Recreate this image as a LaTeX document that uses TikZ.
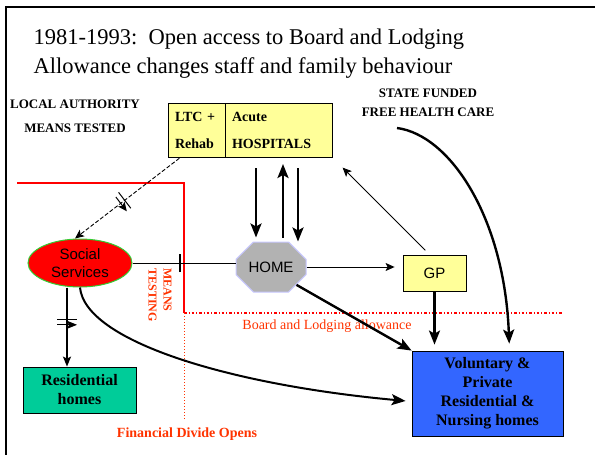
\documentclass[tikz,border=0pt]{standalone}
\usepackage{fontspec}
\setmainfont{Liberation Serif}
\setsansfont{Liberation Sans}
\usetikzlibrary{positioning, arrows.meta, shapes.geometric, shapes.misc, decorations.markings}
\definecolor{boxyellow}{RGB}{255,255,153}
\definecolor{homegray}{RGB}{178,178,178}
\definecolor{homeedge}{RGB}{200,200,255}
\definecolor{ssgreen}{RGB}{51,204,51}
\definecolor{resteal}{RGB}{0,204,153}
\definecolor{volblue}{RGB}{51,102,255}
\definecolor{labelred}{RGB}{255,51,0}
\tikzset{
x=1pt, y=-1pt, % one unit per pixel, y pointing down
bigarrow/.style={line width=2.4pt, -{Stealth[length=14pt, width=11pt, inset=3pt]}}, % thick arrows
midarrow/.style={line width=1.6pt, -{Stealth[length=10pt, width=8pt, inset=2pt]}},
thinarrow/.style={line width=0.9pt, -{Stealth[length=9pt, width=8pt, inset=2pt]}},
crossbars/.style={postaction={decorate, decoration={markings, mark=at position #1 with {\draw[solid, line width=1pt] (-2.5pt,-10pt) -- (-2.5pt,10pt) (2.5pt,-10pt) -- (2.5pt,10pt);}}}}, % the = marks
onebar/.style={postaction={decorate, decoration={markings, mark=at position #1 with {\draw[solid, line width=2pt] (0pt,-9pt) -- (0pt,9pt);}}}},
titletext/.style={anchor=base west, font=\fontsize{22.5}{29}\selectfont},
sidelabel/.style={align=center, font=\bfseries\fontsize{13}{#1}\selectfont},
redlabel/.style={text=labelred, font=\fontsize{14}{16}\selectfont},
hospbox/.style={draw, thick, fill=boxyellow, outer sep=0pt, minimum height=54pt, text width=#1, align=left, inner xsep=7pt, font=\bfseries\fontsize{14}{27}\selectfont},
carebox/.style={draw, thick, align=center, font=\bfseries\fontsize{16}{19}\selectfont},
homeshape/.style={chamfered rectangle, chamfered rectangle sep=12pt, draw=homeedge, line width=1pt, fill=homegray, minimum width=70pt, minimum height=50pt, inner sep=0pt, font=\sffamily\fontsize{15}{18}\selectfont},
ssshape/.style={ellipse, draw=ssgreen, line width=1pt, fill=red, minimum width=104pt, minimum height=48pt, inner sep=0pt, align=center, font=\sffamily\fontsize{15}{18}\selectfont},
gpbox/.style={draw, thick, fill=boxyellow, minimum width=63pt, minimum height=36pt, font=\sffamily\fontsize{15}{18}\selectfont},
}
\begin{document}
\begin{tikzpicture}
\useasboundingbox (0,0) rectangle (595,455);
\draw[line width=1.6pt] (6,455) -- (6,7) -- (595,7); % frame

\node[titletext] (title1) at (30,44) {1981-1993:\ \ Open access to Board and Lodging};
\node[titletext] (title2) at (30,73) {Allowance changes staff and family behaviour};
\node[sidelabel=24] (local) at (75,116) {LOCAL AUTHORITY\\MEANS TESTED};
\node[sidelabel=18.5] (state) at (428,103) {STATE FUNDED\\FREE HEALTH CARE};

\node[hospbox=43pt] (ltc) at (196.5,130) {LTC +\\Rehab};
\node[hospbox=93pt, right=0pt of ltc] (acute) {Acute\\HOSPITALS};
\node[homeshape] (home) at (271,267) {HOME};
\node[ssshape] (ss) at (80,263) {Social\\Services};
\node[gpbox] (gp) at (434.5,273) {GP};
\node[carebox, fill=resteal, minimum width=113pt, minimum height=46pt] (res) at (79.5,390) {Residential\\homes};
\node[carebox, fill=volblue, minimum width=151pt, minimum height=85pt] (vol) at (487.5,393.5) {Voluntary \&\\Private\\Residential \&\\Nursing homes};

% the financial divide
\coordinate (divide) at (184,313);
\draw[red, line width=1.6pt] (17,183) -- (184,183) -- (divide);
\draw[red, line width=1.3pt, dash pattern=on 2.5pt off 2pt on 1pt off 2pt] (divide) -- (562,313);
\draw[labelred, line width=0.8pt, dash pattern=on 1pt off 2pt] (divide) -- (184,420);
\node[redlabel, rotate=-90, align=left, font=\bfseries\fontsize{12}{15}\selectfont] (means) at (160,295) {MEANS\\TESTING};
\node[redlabel] (allowance) at (327,326) {Board and Lodging allowance};
\node[redlabel, font=\bfseries\fontsize{14}{16}\selectfont] (opens) at (187,434) {Financial Divide Opens};

% hospital and home
\draw[bigarrow, shorten <=11pt, shorten >=4pt] ([xshift=-22.5pt]acute.south) -- ([xshift=-22.5pt]acute.south |- home.north);
\draw[bigarrow, shorten <=4pt, shorten >=7pt] ([xshift=4.5pt]acute.south |- home.north) -- ([xshift=4.5pt]acute.south);
\draw[bigarrow, shorten <=11pt] ([xshift=19.5pt]acute.south) -- ([xshift=19.5pt]acute.south |- home.north);
\draw[thinarrow, shorten <=6pt, shorten >=15pt] ([xshift=-5pt]gp.north) -- (acute.south east);
\draw[thinarrow, dash pattern=on 4pt off 2pt, crossbars=0.55, shorten <=2pt] ([xshift=13pt]ltc.south west) -- ([xshift=-5pt]ss.north);

% social services
\draw[line width=0.9pt, onebar=0.46] (ss.east) -- (ss.east -| home.west);
\draw (home.east) edge[thinarrow, shorten >=8pt] (home.east -| gp.west);
\draw[midarrow, crossbars=0.44] ([xshift=-13pt]ss.south) -- ([xshift=-13pt]ss.south |- res.north);
\draw[bigarrow, line width=2pt, shorten >=6pt] (ss.south) .. controls +(5,53) and +(-185,-17) .. ([yshift=-8pt]vol.west);

% into the homes
\draw[bigarrow] (home.-35) -- (vol.north west);
\draw[bigarrow, shorten >=6pt] (gp.south) -- (gp.south |- vol.north);
\coordinate (care) at (397,128);
\draw[bigarrow, shorten >=7pt] (care) .. controls +(53,7) and +(-5,-133) .. ([xshift=22pt]vol.north);
\end{tikzpicture}
\end{document}
